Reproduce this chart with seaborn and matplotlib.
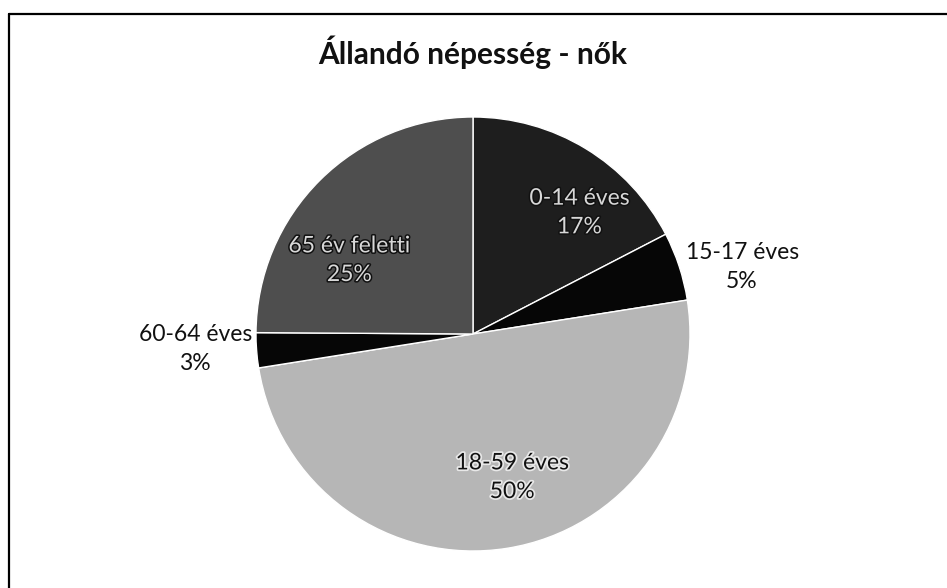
import matplotlib
matplotlib.use("Agg")
import matplotlib.pyplot as plt
import matplotlib.patheffects as pe
from matplotlib.lines import Line2D
import seaborn as sns

# data
groups = ["0-14 éves", "15-17 éves", "18-59 éves", "60-64 éves", "65 év feletti"]
shares = [17.4, 5.1, 50.0, 2.6, 24.9]
title = "Állandó népesség - nők"

# greys of the scanned halftone slices
colors = ["#1e1e1e", "#060606", "#b6b6b6", "#060606", "#4e4e4e"]

sns.set_theme(style="white")
plt.rcParams["font.family"] = ["Lato", "DejaVu Sans"]

W, H = 947, 588
fig = plt.figure(figsize=(W / 100, H / 100), dpi=100)
fig.patch.set_facecolor("white")

# pie centre and radius in pixels
cx, cy, r = 473, 334, 217
ax = fig.add_axes([(cx - r) / W, (H - cy - r) / H, 2 * r / W, 2 * r / H])
wedges, _ = ax.pie(shares, colors=colors, startangle=90, counterclock=False,
                   radius=1, wedgeprops=dict(edgecolor="white", linewidth=1.0))
ax.set_xlim(-1, 1)
ax.set_ylim(-1, 1)
ax.set_aspect("equal")
ax.axis("off")

# label placement (axes units, radius = 1) and style per slice
label_pos = [(0.49, 0.56), (1.24, 0.31), (0.18, -0.66), (-1.28, -0.07), (-0.57, 0.34)]
label_style = ["dark", "out", "light", "out", "dark"]
fs = 16.5

for name, val, (lx, ly), st in zip(groups, shares, label_pos, label_style):
    txt = f"{name}\n{round(val):d}%"
    if st == "out":
        ax.text(lx, ly, txt, ha="center", va="center", fontsize=fs,
                color="#111111", linespacing=1.45, clip_on=False)
    elif st == "dark":
        ax.text(lx, ly, txt, ha="center", va="center", fontsize=fs,
                color="#d8d8d8", linespacing=1.45,
                path_effects=[pe.withStroke(linewidth=2.2, foreground="#111111")])
    else:
        ax.text(lx, ly, txt, ha="center", va="center", fontsize=fs,
                color="#111111", linespacing=1.45,
                path_effects=[pe.withStroke(linewidth=2.5, foreground="#e8e8e8")])

fig.text(cx / W, 1 - 52 / H, title, ha="center", va="center",
         fontsize=21.5, fontweight="bold", color="#111111")

# chart frame (only left and top edges are visible in the scan)
fig.add_artist(Line2D([8.5 / W, 8.5 / W], [0, 1 - 13.5 / H],
                      transform=fig.transFigure, color="black", lw=1.6))
fig.add_artist(Line2D([8.5 / W, 1], [1 - 13.5 / H, 1 - 13.5 / H],
                      transform=fig.transFigure, color="black", lw=1.6))

fig.savefig("out.png", dpi=100, facecolor="white")
